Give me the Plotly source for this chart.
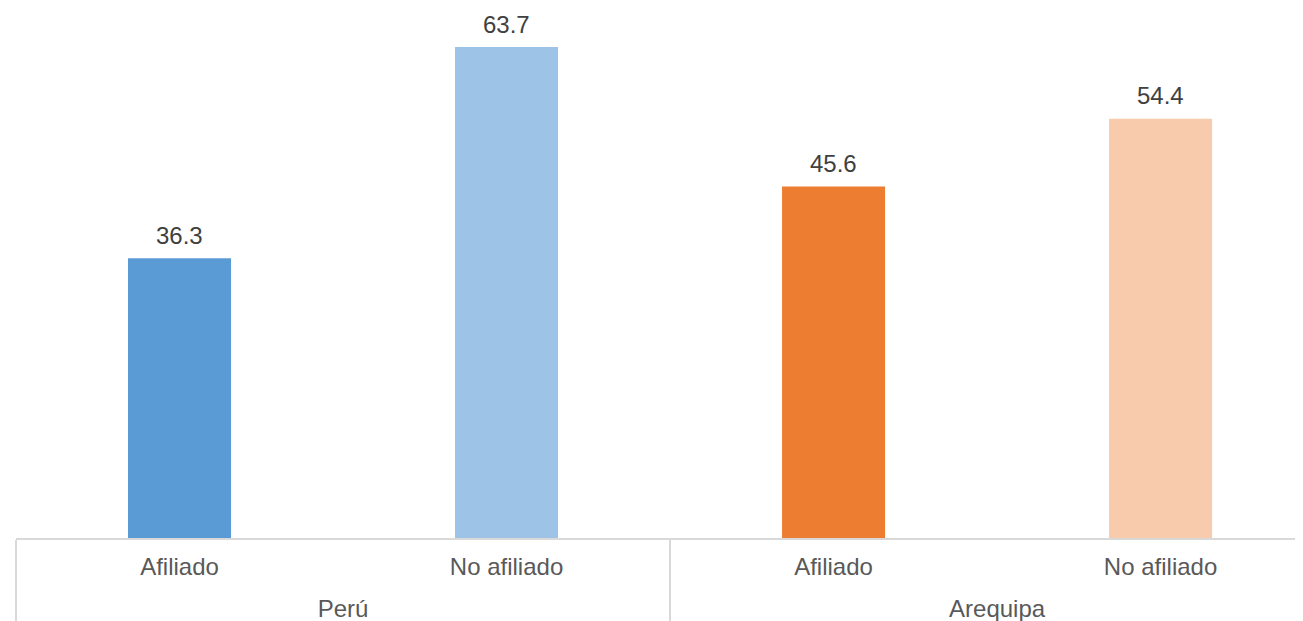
import plotly.graph_objects as go

# Data
regions = ["Perú", "Perú", "Arequipa", "Arequipa"]
status = ["Afiliado", "No afiliado", "Afiliado", "No afiliado"]
values = [36.3, 63.7, 45.6, 54.4]
bar_colors = ["#5B9BD5", "#9DC3E6", "#ED7D31", "#F8CBAD"]

FONT = "Liberation Sans, Arial, sans-serif"

# a wide non-breaking space on each side makes the first label row taller,
# which pushes the region row further down (as in the original)
pad = "<span style='font-size:41px'>\u00a0</span>"
status_labels = [pad + s + pad for s in status]

fig = go.Figure()

fig.add_trace(go.Bar(
    x=[regions, status_labels],
    y=values,
    marker=dict(color=bar_colors, line=dict(width=0)),
    width=0.315,
    showlegend=False,
))

# value labels above the bars
for i, v in enumerate(values):
    fig.add_annotation(
        x=i, y=v,
        text=f"{v:.1f}",
        showarrow=False,
        yanchor="middle",
        yshift=23,
        font=dict(family=FONT, size=24, color="#404040"),
    )

fig.update_layout(
    width=1303,
    height=621,
    margin=dict(l=8, r=0, t=0, b=91),
    paper_bgcolor="white",
    plot_bgcolor="white",
    font=dict(family=FONT, size=24, color="#595959"),
    xaxis=dict(
        type="multicategory",
        range=[-0.5, 3.46],
        showline=True,
        linecolor="#D9D9D9",
        linewidth=2,
        showgrid=False,
        ticks="",
        ticklabelstandoff=6,
        showdividers=True,
        dividercolor="#D9D9D9",
        dividerwidth=2,
        tickfont=dict(family=FONT, size=24, color="#595959"),
    ),
    yaxis=dict(
        range=[0, 68.76],
        visible=False,
        showgrid=False,
        zeroline=False,
    ),
)

fig.write_html("out.html")
